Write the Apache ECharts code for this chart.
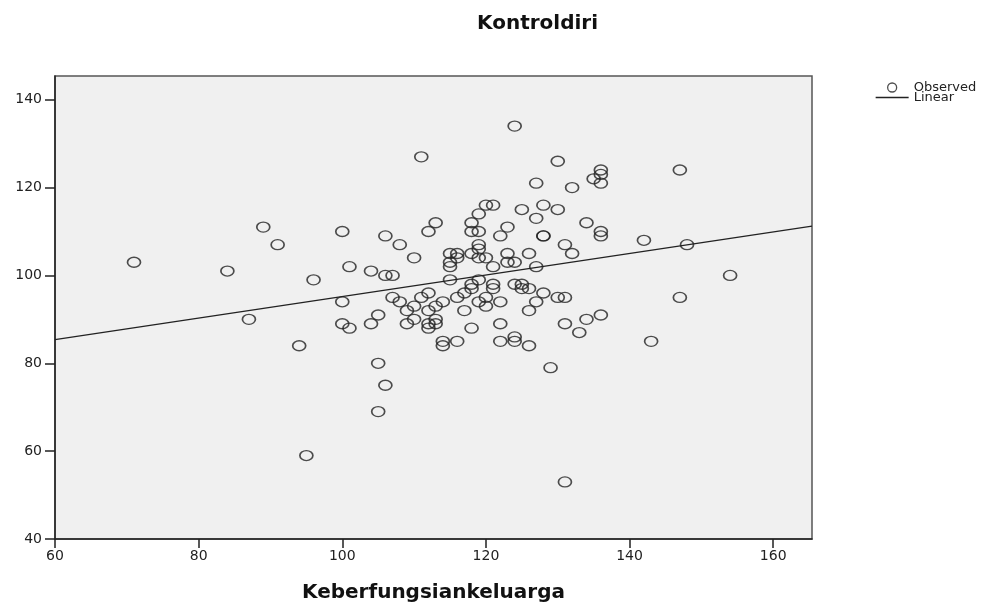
<!DOCTYPE html>
<html>
<head>
<meta charset="utf-8">
<script src="https://cdn.jsdelivr.net/npm/echarts@6/dist/echarts.min.js"></script>
<style>
  html, body { margin: 0; padding: 0; background: #fff; }
  #chart { width: 999px; height: 608px; }
</style>
</head>
<body>
<div id="chart"></div>
<script>
// 读取自图片的数据
var keberfungsian = [71, 84, 89, 91, 96, 87, 94, 95, 136, 136, 135, 136, 132, 147, 134, 136, 136, 142, 148, 132,
  131, 154, 147, 136, 134, 133, 131, 143, 131, 124, 111, 130, 127, 100, 106, 108, 113, 112, 110, 101,
  104, 106, 107, 120, 121, 119, 118, 118, 119, 119, 119, 115, 116, 116, 115, 115, 118, 119, 120, 121,
  115, 119, 123, 122, 125, 127, 128, 130, 128, 128, 123, 126, 123, 124, 127, 121, 121, 124, 125, 125,
  126, 128, 118, 118, 117, 111, 112, 107, 130, 131, 100, 108, 110, 114, 112, 113, 109, 116, 119, 120,
  120, 122, 117, 127, 126, 105, 100, 101, 104, 109, 110, 112, 112, 113, 113, 118, 122, 114, 114, 116,
  122, 124, 124, 126, 129, 105, 106, 105];
var kontroldiri = [103, 101, 111, 107, 99, 90, 84, 59, 124, 123, 122, 121, 120, 124, 112, 110, 109, 108, 107, 105,
  107, 100, 95, 91, 90, 87, 89, 85, 53, 134, 127, 126, 121, 110, 109, 107, 112, 110, 104, 102,
  101, 100, 100, 116, 116, 114, 112, 110, 110, 107, 106, 105, 105, 104, 103, 102, 105, 104, 104, 102,
  99, 99, 111, 109, 115, 113, 116, 115, 109, 109, 105, 105, 103, 103, 102, 98, 97, 98, 98, 97,
  97, 96, 98, 97, 96, 95, 96, 95, 95, 95, 94, 94, 93, 94, 92, 93, 92, 95, 94, 95,
  93, 94, 92, 94, 92, 91, 89, 88, 89, 89, 90, 89, 88, 90, 89, 88, 89, 85, 84, 85,
  85, 86, 85, 84, 79, 80, 75, 69];

// 拟合直线 (Linear)
var intercept = 70.7;
var slope = 0.245;

var xTicks = [60, 80, 100, 120, 140, 160];
var yTicks = [40, 60, 80, 100, 120, 140];
var xMin = 60, xMax = 165.4;
var yMin = 40, yMax = 145.4;

var points = keberfungsian.map(function (x, i) { return [x, kontroldiri[i]]; });
var linePts = [[xMin, intercept + slope * xMin], [xMax, intercept + slope * xMax]];

var chart = echarts.init(document.getElementById('chart'));
var font = 'DejaVu Sans';

var option = {
  backgroundColor: '#fff',
  animation: false,
  title: {
    text: 'Kontroldiri',
    left: 472,
    top: 9,
    textStyle: { fontFamily: font, fontSize: 20, fontWeight: 'bold', color: '#111' }
  },
  legend: {
    orient: 'vertical',
    left: 875,
    top: 81,
    padding: 0,
    itemWidth: 33,
    itemHeight: 9,
    itemGap: -3,
    textStyle: { fontFamily: font, fontSize: 13, color: '#222', lineHeight: 10 },
    data: [
      { name: 'Observed', icon: 'circle', itemStyle: { color: 'transparent', borderColor: '#222', borderWidth: 1.3 } },
      { name: 'Linear', itemStyle: { color: 'transparent', borderColor: 'transparent', borderWidth: 0 },
        lineStyle: { color: '#222', width: 1.3 } }
    ]
  },
  grid: {
    left: 55, right: 187, top: 76, bottom: 63,
    show: true,
    backgroundColor: '#f0f0f0',
    borderColor: '#555',
    borderWidth: 1.5
  },
  xAxis: {
    type: 'value',
    min: xMin, max: xMax,
    name: 'Keberfungsiankeluarga',
    nameLocation: 'middle',
    nameGap: 44,
    nameTextStyle: { fontFamily: font, fontSize: 20, fontWeight: 'bold', color: '#111' },
    splitLine: { show: false },
    axisLine: { lineStyle: { color: '#222', width: 1.5 } },
    axisTick: { length: 9, customValues: xTicks, lineStyle: { color: '#222', width: 1.5 } },
    axisLabel: { customValues: xTicks, margin: 10, fontFamily: font, fontSize: 14, color: '#222' }
  },
  yAxis: {
    type: 'value',
    min: yMin, max: yMax,
    splitLine: { show: false },
    axisLine: { lineStyle: { color: '#222', width: 1.5 } },
    axisTick: { length: 10, customValues: yTicks, lineStyle: { color: '#222', width: 1.5 } },
    axisLabel: { customValues: yTicks, margin: 13, fontFamily: font, fontSize: 14, color: '#222' }
  },
  series: [
    {
      name: 'Observed',
      type: 'scatter',
      symbol: 'circle',
      symbolSize: [13, 10],
      itemStyle: { color: 'transparent', borderColor: '#222', borderWidth: 1.5 },
      data: points
    },
    {
      name: 'Linear',
      type: 'line',
      symbol: 'none',
      itemStyle: { color: '#222' },
      lineStyle: { color: '#222', width: 1.3 },
      data: linePts
    }
  ]
};

chart.setOption(option);
</script>
</body>
</html>
